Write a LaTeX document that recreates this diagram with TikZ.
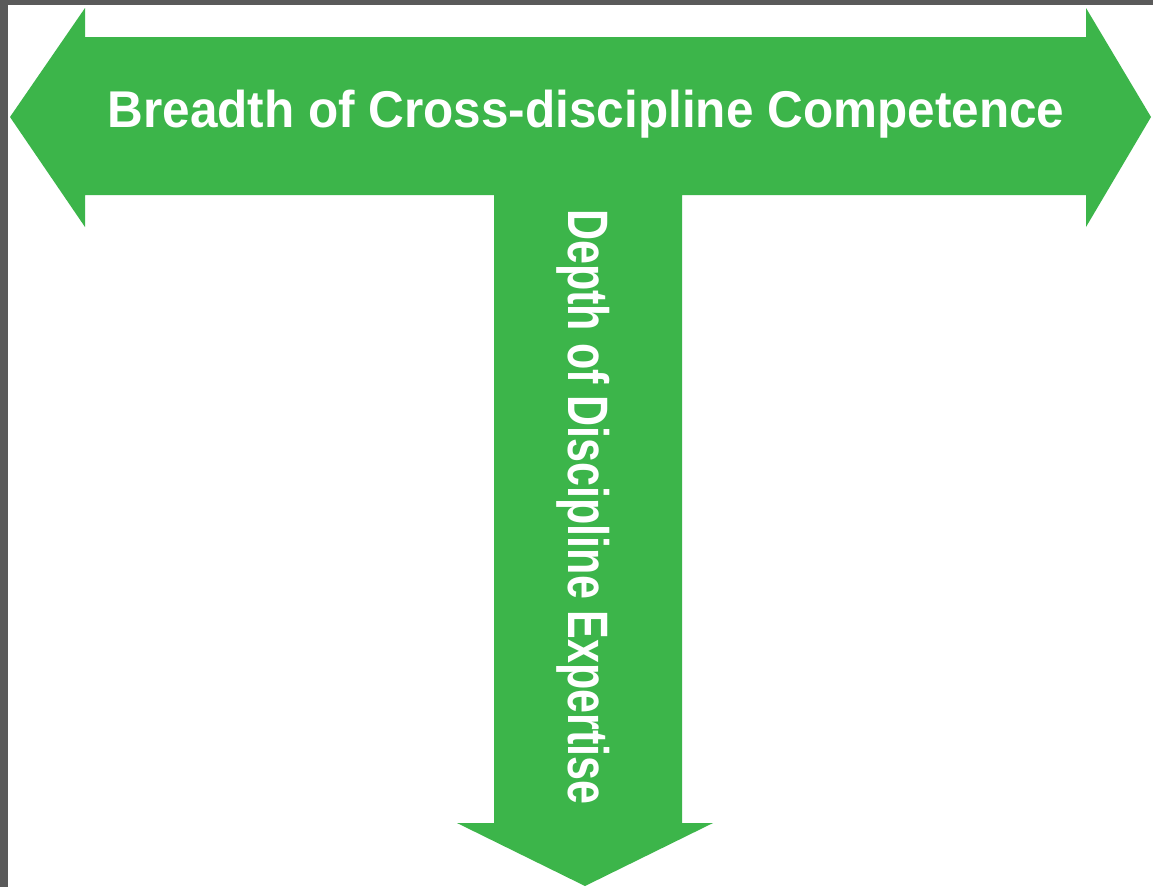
\documentclass[tikz,border=0pt]{standalone}
\usepackage{fontspec}
\setmainfont{Liberation Sans}
\usepackage{graphicx}
\definecolor{armgreen}{HTML}{3CB54A}
\definecolor{edgegrey}{HTML}{5A5A5A}

\begin{document}
\begin{tikzpicture}[x=1pt,y=-1pt,
  armfill/.style={fill=armgreen},
  armtext/.style={text=white,font=\bfseries,inner sep=0pt,anchor=base}]
  \useasboundingbox (0,0) rectangle (1153,887);
  \fill[white] (0,0) rectangle (1153,887);
  \fill[edgegrey] (0,0) rectangle (8,887);
  \fill[edgegrey] (0,0) rectangle (1153,5);
  \fill[armfill] (10,117) -- (85,8) -- (85,37) -- (1086,37) -- (1086,8)
    -- (1151,117) -- (1086,227) -- (1086,195) -- (682,195) -- (682,823)
    -- (713,823) -- (585,886) -- (457,823) -- (494,823) -- (494,195)
    -- (85,195) -- (85,227) -- cycle;
  \node[armtext] (breadth) at (586,127)
    {\fontsize{51.7}{60}\selectfont\scalebox{0.957}[1]{Breadth of Cross-discipline Competence}};
  \node[armtext,rotate=-90] (depth) at (568,507)
    {\fontsize{57}{66}\selectfont\scalebox{0.755}[1]{Depth of Discipline Expertise}};
\end{tikzpicture}
\end{document}
